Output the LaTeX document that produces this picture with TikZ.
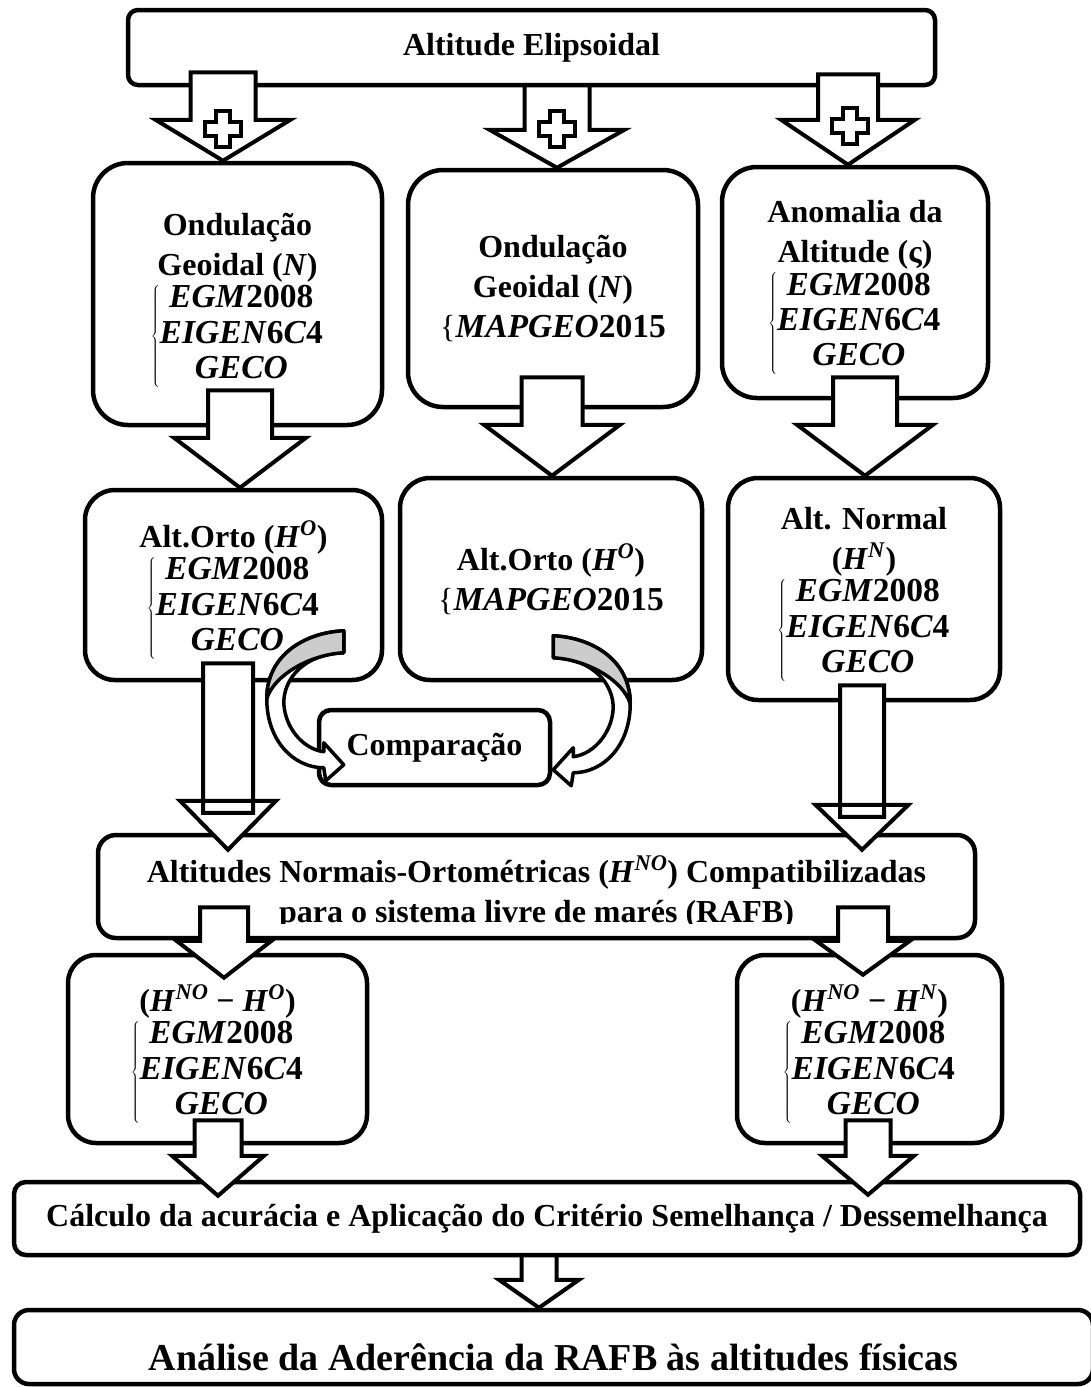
\documentclass[tikz,border=0pt]{standalone}
\usepackage{fix-cm}
\usepackage{fontspec}
\setmainfont{Liberation Serif}
\usetikzlibrary{calc}

\newcommand{\txtfont}{\fontsize{32}{40}\selectfont\bfseries}
\newcommand{\modfont}{\fontsize{33.5}{40}\selectfont}
\newcommand{\modelos}{$\left\{\begin{tabular}{@{}c@{}}\modfont\textit{EGM}2008\\\modfont\textit{EIGEN}6\textit{C}4\\\modfont\textit{GECO}\end{tabular}\right.$}
\newcommand{\mapgeo}{{\mdseries\{}{\modfont\textit{MAPGEO}2015}}
\newcommand{\alt}[1]{\textit{H}\textsuperscript{\textit{#1}}}
\renewcommand{\arraystretch}{0.88}

\tikzset{
  bx/.style={draw,line width=4.5pt,fill=white,rounded corners=#1,
    inner sep=0pt,align=center,font=\txtfont},
  bx/.default=30pt,
  txt/.style={inner sep=0pt,align=center,font=\txtfont},
  barrow/.style={draw,fill=white,line width=4pt,line join=miter},
  cruz/.pic={
    \draw[line width=3.5pt,fill=white] (-7,-18) -- (7,-18) -- (7,-7) -- (18,-7)
      -- (18,7) -- (7,7) -- (7,18) -- (-7,18) -- (-7,7) -- (-18,7) -- (-18,-7)
      -- (-7,-7) -- cycle;
  },
  curva/.pic={
    \draw[line width=3.5pt,line join=round,fill=white]
      (0,0) .. controls (-40,2) and (-77,25) .. (-77,68)
      .. controls (-77,110) and (-50,137) .. (-20,137)
      -- (-18,150) -- (0,134) -- (-20,112) -- (-20,121)
      .. controls (-42,118) and (-60,95) .. (-60,70)
      .. controls (-58,40) and (-30,22) .. (0,22) -- cycle;
    \draw[line width=3.5pt,line join=round,fill=gray!40]
      (0,0) .. controls (-40,2) and (-77,25) .. (-77,68)
      .. controls (-70,45) and (-35,24) .. (0,22) -- cycle;
  }
}

% seta bloco: topo, ponta, meia haste, meia cabeca, altura da cabeca
\newcommand{\seta}[5]{%
  \path[barrow] let \p1=#1, \p2=#2 in
    (\x2-#3,\y1) -- (\x2+#3,\y1) -- (\x2+#3,\y2+#5) -- (\x2+#4,\y2+#5)
    -- (\x2,\y2) -- (\x2-#4,\y2+#5) -- (\x2-#3,\y2+#5) -- cycle;}
\newcommand{\setacap}[6]{%
  \path[barrow] let \p1=#1, \p2=#2 in
    (\x2-#4,\y2+#5) -- (\x2+#4,\y2+#5) -- (\x2,\y2) -- cycle
    (\x2-#3,\y1) rectangle (\x2+#3,\y2+#5-#6);}

\begin{document}
\begin{tikzpicture}[x=1pt,y=-1pt]
\fill[white] (0,0) rectangle (1090,1387);
\useasboundingbox (0,0) rectangle (1090,1387);

% caixas
\node[bx=10pt,minimum width=807,minimum height=75] (elip) at (531.5,47.5) {Altitude Elipsoidal};
\node[bx=35pt,minimum width=289,minimum height=262] (ondA) at (237.5,294) {};
\node[txt] (ondAT) at ($(ondA)+(0,7)$) {Ondulação\\Geoidal (\textit{N})\\\modelos};
\node[bx=35pt,minimum width=290,minimum height=237] (ondB) at (553,288.5) {Ondulação\\Geoidal (\textit{N})\\\mapgeo};
\node[bx=35pt,minimum width=266,minimum height=231] (anom) at (855,282.5) {};
\node[txt] (anomT) at ($(anom)+(0,6)$) {Anomalia da\\Altitude (ς)\\\modelos};
\node[bx,minimum width=297,minimum height=190] (ortA) at (233.5,585) {};
\node[txt] (ortAT) at ($(ortA)+(0,6)$) {Alt.Orto (\alt{O})\\\modelos};
\node[bx,minimum width=302,minimum height=202] (ortB) at (551,579) {Alt.Orto (\alt{O})\\\mapgeo};
\node[bx,minimum width=272,minimum height=222] (norm) at (864,589) {};
\node[txt] (normT) at ($(norm)+(0,6)$) {Alt. Normal\\(\alt{N})\\\modelos};
\node[bx=12pt,minimum width=231,minimum height=75] (comp) at (434.5,747.5) {Comparação};
\node[bx=18pt,minimum width=877,minimum height=103] (nort) at (536.5,886.5) {};
\begin{scope}
  \clip (nort.north west) rectangle ($(nort.south east)+(0,-17)$);
  \node[txt] (nortT) at ($(nort.center)+(0,6)$) {Altitudes Normais-Ortométricas (\alt{NO}) Compatibilizadas\\para o sistema livre de marés (RAFB)};
\end{scope}
\node[bx=28pt,minimum width=299,minimum height=188] (difO) at (217.5,1049) {};
\node[txt] (difOT) at ($(difO)+(0,6)$) {(\alt{NO} − \alt{O})\\\modelos};
\node[bx=28pt,minimum width=265,minimum height=188] (difN) at (869.5,1049) {};
\node[txt] (difNT) at ($(difN)+(0,6)$) {(\alt{NO} − \alt{N})\\\modelos};
\node[bx=12pt,minimum width=1066,minimum height=73] (acur) at (547,1218.5) {Cálculo da acurácia e Aplicação do Critério Semelhança / Dessemelhança};
\node[bx=15pt,minimum width=1079,minimum height=74] (ader) at (553.5,1347) {};
\node[txt,font=\fontsize{38}{44}\selectfont\bfseries] (aderT) at ($(ader.center)+(0,10)$) {Análise da Aderência da RAFB às altitudes físicas};

% setas com cruz
\seta{($(elip.south)+(0,-15)$)}{($(ondA.north)+(-14.5,0)$)}{32.5pt}{67.5pt}{41pt}
\seta{($(elip.south)+(0,-2)$)}{($(ondB.north)+(4,0)$)}{32.5pt}{67.5pt}{38pt}
\seta{($(elip.south)+(0,-13)$)}{($(anom.north)+(-7,0)$)}{30pt}{67pt}{45pt}
\pic at ($(ondA.north)+(-14.5,-32)$) {cruz};
\pic at ($(ondB.north)+(4,-39)$) {cruz};
\pic at ($(anom.north)+(-5,-39)$) {cruz};

% setas
\seta{($(ondA.south)+(0,-37)$)}{($(ortA.north)+(6.5,0)$)}{32pt}{66pt}{50pt}
\seta{($(ondB.south)+(0,-32)$)}{($(ortB.north)+(1,0)$)}{30.5pt}{68pt}{51pt}
\seta{($(anom.south)+(0,-23)$)}{($(norm.north)+(1,0)$)}{32pt}{68pt}{51pt}
\setacap{($(ortA.south)+(0,-19)$)}{($(ortA.south |- nort.north)+(-5.5,17)$)}{25pt}{48pt}{49pt}{12pt}
\setacap{($(norm.south)+(0,-17)$)}{($(norm.south |- nort.north)+(-2,17)$)}{22pt}{46.5pt}{45pt}{12pt}
\pic at ($(comp.north west)+(27,-77)$) {curva};
\pic[xscale=-1] at ($(comp.north east)+(1,-72)$) {curva};
\seta{($(nort.south)+(0,-33)$)}{($(difO.north)+(6.5,25)$)}{24pt}{47.5pt}{37pt}
\seta{($(nort.south)+(0,-33)$)}{($(difN.north)+(-6.5,22)$)}{25pt}{47pt}{34pt}
\seta{($(difO.south)+(0,-25)$)}{($(difO.south |- acur.north)+(0.5,16)$)}{23.5pt}{46pt}{40pt}
\seta{($(difN.south)+(0,-25)$)}{($(difN.south |- acur.north)+(-1.5,15)$)}{22.5pt}{46pt}{39pt}
\seta{($(acur.south)+(0,-2)$)}{($(acur.south |- ader.north)+(-8,0)$)}{17.5pt}{40pt}{28pt}
\end{tikzpicture}
\end{document}
